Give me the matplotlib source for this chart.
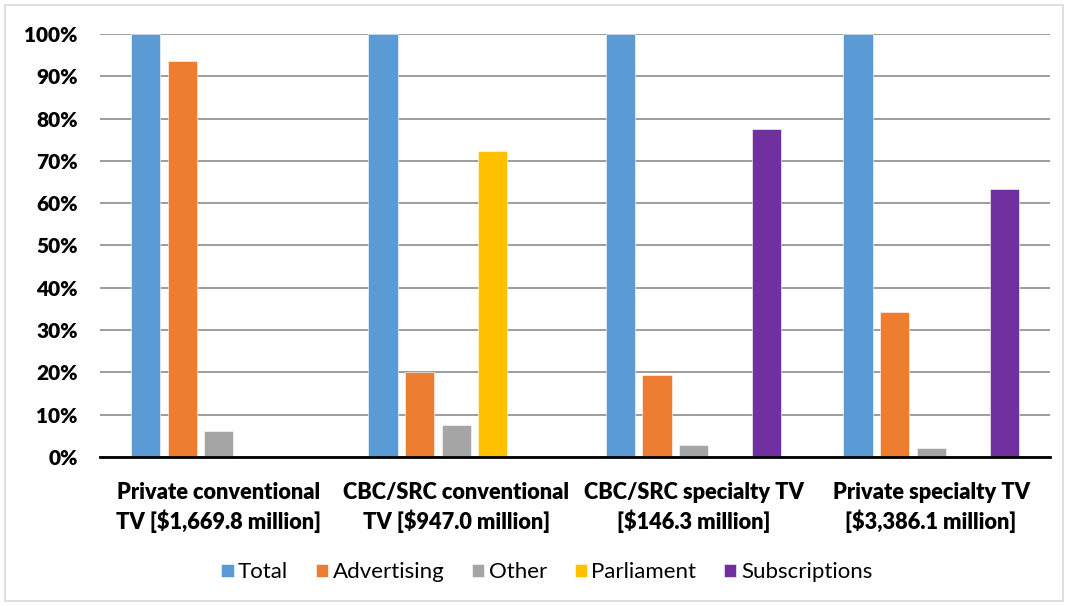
import matplotlib.pyplot as plt
import matplotlib.patches as patches
import numpy as np

categories = ["Private conventional\nTV [$1,669.8 million]",
              "CBC/SRC conventional\nTV [$947.0 million]",
              "CBC/SRC specialty TV\n[$146.3 million]",
              "Private specialty TV\n[$3,386.1 million]"]
series_names = ["Total", "Advertising", "Other", "Parliament", "Subscriptions"]
total = [100, 100, 100, 100]
advertising = [93.6, 20.0, 19.5, 34.2]
other = [6.2, 7.6, 2.9, 2.1]
parliament = [0, 72.3, 0, 0]
subscriptions = [0, 0, 77.5, 63.4]
colors = ["#5B9BD5", "#ED7D31", "#A5A5A5", "#FFC000", "#7030A0"]

plt.rcParams['font.family'] = ['Lato', 'DejaVu Sans']

fig = plt.figure(figsize=(10.68, 6.06), dpi=100)
ax = fig.add_axes([0.0936, 0.2459, 0.8894, 0.698])

x = np.arange(len(categories))
slot = 0.154
width = 0.123
values = [total, advertising, other, parliament, subscriptions]
for i, (name, vals) in enumerate(zip(series_names, values)):
    offs = (i - 2) * slot
    ax.bar(x + offs, vals, width, color=colors[i], label=name,
           edgecolor='white', linewidth=0.4, zorder=3)

ax.set_xlim(-0.5, 3.5)
ax.set_ylim(0, 100)
ax.set_yticks(range(0, 101, 10))
ax.set_yticklabels([f"{v}%" for v in range(0, 101, 10)],
                   fontsize=15, fontweight='heavy')
ax.set_xticks(x)
ax.set_xticklabels(categories, fontsize=15.7, fontweight='heavy', linespacing=1.35)
ax.tick_params(axis='both', length=0)
ax.tick_params(axis='x', pad=18)
ax.tick_params(axis='y', pad=16)
ax.grid(axis='y', color='#8c8c8c', linewidth=1.2, zorder=0)
for s in ['top', 'right', 'left']:
    ax.spines[s].set_visible(False)
ax.spines['bottom'].set_linewidth(2)
ax.spines['bottom'].set_color('black')
ax.spines['bottom'].set_zorder(4)

leg = fig.legend(loc='center', bbox_to_anchor=(0.512, 0.056), ncol=5,
                 frameon=False, fontsize=16, handlelength=0.55, handleheight=0.55,
                 handletextpad=0.2, columnspacing=1.25)

fig.patches.append(patches.Rectangle((0.005, 0.008), 0.99, 0.984,
                                     transform=fig.transFigure, fill=False,
                                     edgecolor='#d9d9d9', linewidth=1.2))

fig.savefig("out.png", dpi=100)
